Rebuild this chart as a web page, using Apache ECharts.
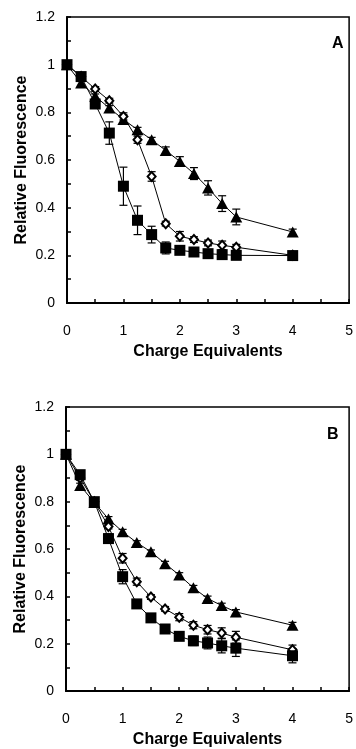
<!DOCTYPE html>
<html>
<head>
<meta charset="utf-8">
<script src="https://cdn.jsdelivr.net/npm/echarts@6/dist/echarts.min.js"></script>
<style>
  html, body { margin: 0; padding: 0; background: #fff; }
  #chart { width: 356px; height: 749px; }
</style>
</head>
<body>
<div id="chart"></div>
<script>
// charge equivalents (x)
const xVals = [0, 0.25, 0.5, 0.75, 1, 1.25, 1.5, 1.75, 2, 2.25, 2.5, 2.75, 3, 4];

// panel A
const aSquare = [1.0, 0.95, 0.835, 0.713, 0.49, 0.347, 0.287, 0.231, 0.221, 0.214, 0.207, 0.203, 0.2, 0.199];
const aSquareErr = [0, 0.01, 0.01, 0.047, 0.08, 0.06, 0.035, 0.025, 0.01, 0.008, 0.008, 0.008, 0.008, 0.008];
const aDiamond = [1.0, 0.95, 0.898, 0.849, 0.783, 0.685, 0.531, 0.333, 0.28, 0.266, 0.252, 0.242, 0.234, 0.2];
const aDiamondErr = [0, 0.01, 0.01, 0.01, 0.015, 0.015, 0.02, 0.01, 0.02, 0.012, 0.012, 0.018, 0.012, 0.008];
const aTriangle = [1.0, 0.923, 0.867, 0.818, 0.77, 0.727, 0.685, 0.64, 0.594, 0.543, 0.483, 0.417, 0.361, 0.298];
const aTriangleErr = [0, 0.01, 0.01, 0.01, 0.02, 0.01, 0.01, 0.015, 0.02, 0.025, 0.03, 0.033, 0.033, 0.012];

// panel B
const bSquare = [1.0, 0.914, 0.80, 0.644, 0.483, 0.368, 0.309, 0.262, 0.231, 0.212, 0.203, 0.191, 0.181, 0.149];
const bSquareErr = [0, 0.01, 0.01, 0.02, 0.03, 0.01, 0.01, 0.01, 0.01, 0.02, 0.025, 0.03, 0.035, 0.03];
const bDiamond = [1.0, 0.9, 0.8, 0.695, 0.561, 0.462, 0.397, 0.347, 0.312, 0.278, 0.259, 0.245, 0.227, 0.174];
const bDiamondErr = [0, 0.01, 0.01, 0.01, 0.02, 0.015, 0.01, 0.01, 0.015, 0.015, 0.018, 0.022, 0.025, 0.02];
const bTriangle = [1.0, 0.868, 0.797, 0.727, 0.673, 0.627, 0.588, 0.538, 0.49, 0.436, 0.391, 0.361, 0.334, 0.278];
const bTriangleErr = [0, 0.01, 0.01, 0.01, 0.01, 0.008, 0.008, 0.01, 0.01, 0.01, 0.01, 0.01, 0.01, 0.012];

const xTitle = "Charge Equivalents";
const yTitle = "Relative Fluorescence";
const panelLabels = ["A", "B"];

const FONT = "'Liberation Sans', Arial, sans-serif";

function pairs(ys) {
  return xVals.map((x, i) => [x, ys[i]]);
}

// 误差线（竖线 + 上下短横）
function errSeries(idx, ys, errs) {
  return {
    type: "custom",
    xAxisIndex: idx,
    yAxisIndex: idx,
    z: 1,
    silent: true,
    data: xVals.map((x, i) => [x, ys[i], errs[i]]),
    renderItem: function (params, api) {
      const x = api.value(0), y = api.value(1), e = api.value(2);
      const top = api.coord([x, y + e]);
      const bot = api.coord([x, y - e]);
      const w = 4;
      const st = { stroke: "#000", lineWidth: 1.2 };
      return {
        type: "group",
        children: [
          { type: "line", shape: { x1: top[0], y1: top[1], x2: bot[0], y2: bot[1] }, style: st },
          { type: "line", shape: { x1: top[0] - w, y1: top[1], x2: top[0] + w, y2: top[1] }, style: st },
          { type: "line", shape: { x1: bot[0] - w, y1: bot[1], x2: bot[0] + w, y2: bot[1] }, style: st },
        ],
      };
    },
  };
}

function lineSeries(idx, ys, kind) {
  const s = {
    type: "line",
    xAxisIndex: idx,
    yAxisIndex: idx,
    z: 3,
    data: pairs(ys),
    lineStyle: { color: "#000", width: 1 },
    emphasis: { disabled: true },
  };
  if (kind === "square") {
    s.symbol = "rect";
    s.symbolSize = 11;
    s.itemStyle = { color: "#000" };
    s.z = 5;
  } else if (kind === "triangle") {
    s.symbol = "triangle";
    s.symbolSize = [12, 11];
    s.itemStyle = { color: "#000" };
  } else {
    s.symbol = "diamond";
    s.symbolSize = [8, 9];
    s.itemStyle = { color: "#fff", borderColor: "#000", borderWidth: 2 };
    s.z = 4;
  }
  return s;
}

function xAxisFor(idx) {
  return {
    type: "value",
    gridIndex: idx,
    min: 0,
    max: 5,
    interval: 0.5,
    name: xTitle,
    nameLocation: "middle",
    nameGap: 41,
    nameMoveOverlap: false,
    nameTextStyle: { fontFamily: FONT, fontSize: 16, fontWeight: "bold", color: "#000", verticalAlign: "top" },
    axisLine: { onZero: false, lineStyle: { color: "#000", width: 2 } },
    axisTick: { inside: true, length: 4, lineStyle: { color: "#000", width: 1.5 } },
    axisLabel: {
      margin: 21,
      fontFamily: FONT,
      fontSize: 14,
      color: "#000",
      showMaxLabel: true,
      alignMaxLabel: "center",
      formatter: (v) => (Math.abs(v - Math.round(v)) < 1e-6 ? String(Math.round(v)) : ""),
    },
    splitLine: { show: false },
  };
}

function yAxisFor(idx) {
  return {
    type: "value",
    gridIndex: idx,
    min: 0,
    max: 1.2,
    interval: 0.1,
    name: yTitle,
    nameLocation: "middle",
    nameGap: 37,
    nameMoveOverlap: false,
    nameRotate: 90,
    nameTextStyle: { fontFamily: FONT, fontSize: 16, fontWeight: "bold", color: "#000" },
    axisLine: { onZero: false, lineStyle: { color: "#000", width: 2 } },
    axisTick: { inside: true, length: 4, lineStyle: { color: "#000", width: 1.5 } },
    axisLabel: {
      margin: 12,
      fontFamily: FONT,
      fontSize: 14,
      color: "#000",
      formatter: (v) => (Math.round(v * 10) % 2 === 0 ? String(+v.toFixed(1)) : ""),
    },
    splitLine: { show: false },
  };
}

const chart = echarts.init(document.getElementById("chart"));
const option = {
  animation: false,
  backgroundColor: "#fff",
  grid: [
    { left: 67, top: 17, width: 286, height: 286, show: true, borderColor: "#000", borderWidth: 1.5 },
    { left: 66, top: 407, width: 287, height: 284, show: true, borderColor: "#000", borderWidth: 1.5 },
  ],
  xAxis: [xAxisFor(0), xAxisFor(1)],
  yAxis: [yAxisFor(0), yAxisFor(1)],
  graphic: [
    { type: "text", left: 332, top: 36, style: { text: panelLabels[0], font: "bold 16px " + FONT, fill: "#000" } },
    { type: "text", left: 327, top: 427, style: { text: panelLabels[1], font: "bold 16px " + FONT, fill: "#000" } },
  ],
  series: [
    errSeries(0, aTriangle, aTriangleErr),
    errSeries(0, aDiamond, aDiamondErr),
    errSeries(0, aSquare, aSquareErr),
    lineSeries(0, aTriangle, "triangle"),
    lineSeries(0, aDiamond, "diamond"),
    lineSeries(0, aSquare, "square"),
    errSeries(1, bTriangle, bTriangleErr),
    errSeries(1, bDiamond, bDiamondErr),
    errSeries(1, bSquare, bSquareErr),
    lineSeries(1, bTriangle, "triangle"),
    lineSeries(1, bDiamond, "diamond"),
    lineSeries(1, bSquare, "square"),
  ],
};
chart.setOption(option);
</script>
</body>
</html>
